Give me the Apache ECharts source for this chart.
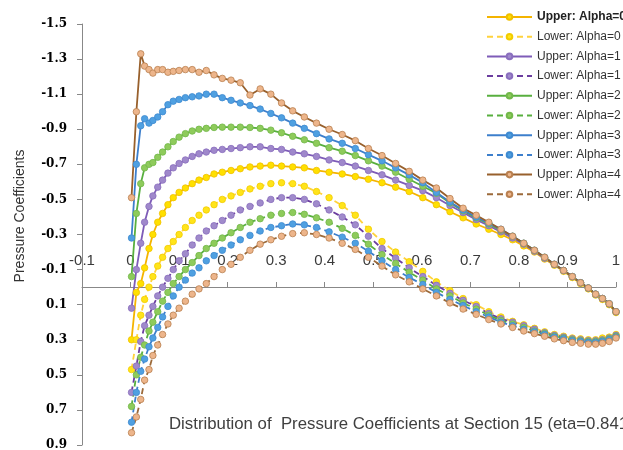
<!DOCTYPE html>
<html>
<head>
<meta charset="utf-8">
<script src="https://cdn.jsdelivr.net/npm/echarts@6/dist/echarts.min.js"></script>
<style>
  html, body { margin: 0; padding: 0; background: #fff; }
  #chart { width: 623px; height: 450px; }
</style>
</head>
<body>
<div id="chart"></div>
<script>
// chord positions shared by all the surface curves
const xs = [0.002, 0.012, 0.021, 0.029, 0.038, 0.046, 0.056, 0.066, 0.077, 0.088,
  0.1, 0.113, 0.127, 0.141, 0.156, 0.172, 0.189, 0.207, 0.226, 0.246,
  0.267, 0.289, 0.311, 0.334, 0.358, 0.383, 0.409, 0.436, 0.463, 0.49,
  0.518, 0.546, 0.574, 0.602, 0.63, 0.658, 0.685, 0.712, 0.738, 0.763,
  0.787, 0.81, 0.832, 0.853, 0.873, 0.892, 0.91, 0.927, 0.943, 0.958,
  0.972, 0.986, 1.0];

const upperA0 = [0.30, 0.03, -0.02, -0.11, -0.22, -0.30, -0.37, -0.42, -0.47, -0.51,
  -0.54, -0.565, -0.59, -0.61, -0.625, -0.645, -0.655, -0.665, -0.675, -0.685,
  -0.69, -0.695, -0.69, -0.685, -0.68, -0.665, -0.655, -0.645, -0.63, -0.615,
  -0.595, -0.57, -0.545, -0.51, -0.47, -0.43, -0.395, -0.36, -0.33, -0.30,
  -0.27, -0.235, -0.20, -0.16, -0.125, -0.09, -0.055, -0.02, 0.01, 0.045,
  0.07, 0.10, 0.145];
const lowerA0 = [0.47, 0.30, 0.16, 0.07, 0.0, -0.06, -0.12, -0.17, -0.22, -0.26,
  -0.30, -0.34, -0.38, -0.41, -0.44, -0.47, -0.50, -0.52, -0.54, -0.56,
  -0.575, -0.59, -0.595, -0.59, -0.575, -0.545, -0.51, -0.465, -0.41, -0.33,
  -0.26, -0.20, -0.145, -0.09, -0.03, 0.02, 0.065, 0.10, 0.14, 0.17,
  0.195, 0.215, 0.235, 0.255, 0.27, 0.28, 0.29, 0.295, 0.30, 0.30,
  0.29, 0.285, 0.27];
const upperA1 = [0.12, -0.10, -0.25, -0.37, -0.46, -0.52, -0.57, -0.61, -0.65, -0.68,
  -0.705, -0.725, -0.745, -0.76, -0.77, -0.78, -0.785, -0.79, -0.795, -0.80,
  -0.80, -0.79, -0.785, -0.77, -0.76, -0.745, -0.725, -0.71, -0.69, -0.665,
  -0.64, -0.61, -0.58, -0.55, -0.51, -0.465, -0.425, -0.385, -0.35, -0.315,
  -0.28, -0.245, -0.205, -0.165, -0.13, -0.095, -0.06, -0.025, 0.005, 0.04,
  0.065, 0.095, 0.14];
const lowerA1 = [0.60, 0.45, 0.31, 0.22, 0.16, 0.11, 0.05, 0.0, -0.05, -0.10,
  -0.15, -0.19, -0.24, -0.28, -0.32, -0.35, -0.38, -0.41, -0.44, -0.46,
  -0.48, -0.50, -0.51, -0.51, -0.50, -0.475, -0.44, -0.40, -0.355, -0.29,
  -0.22, -0.165, -0.11, -0.06, -0.01, 0.035, 0.075, 0.11, 0.15, 0.18,
  0.20, 0.22, 0.24, 0.26, 0.275, 0.285, 0.295, 0.30, 0.305, 0.305,
  0.30, 0.29, 0.275];
const upperA2 = [-0.06, -0.42, -0.59, -0.68, -0.70, -0.71, -0.74, -0.77, -0.80, -0.83,
  -0.855, -0.875, -0.89, -0.90, -0.905, -0.91, -0.912, -0.912, -0.912, -0.91,
  -0.905, -0.895, -0.88, -0.86, -0.84, -0.82, -0.795, -0.775, -0.75, -0.72,
  -0.69, -0.655, -0.615, -0.575, -0.535, -0.48, -0.435, -0.395, -0.36, -0.325,
  -0.29, -0.25, -0.21, -0.17, -0.13, -0.095, -0.06, -0.025, 0.005, 0.04,
  0.065, 0.095, 0.14];
const lowerA2 = [0.68, 0.50, 0.40, 0.33, 0.25, 0.20, 0.14, 0.08, 0.03, -0.02,
  -0.06, -0.10, -0.14, -0.18, -0.22, -0.25, -0.28, -0.31, -0.34, -0.37,
  -0.39, -0.41, -0.42, -0.425, -0.415, -0.395, -0.37, -0.335, -0.295, -0.245,
  -0.185, -0.135, -0.085, -0.04, 0.01, 0.05, 0.09, 0.125, 0.16, 0.19,
  0.21, 0.23, 0.25, 0.265, 0.28, 0.29, 0.30, 0.305, 0.31, 0.31,
  0.305, 0.295, 0.28];
const upperA3 = [-0.28, -0.70, -0.92, -0.96, -0.935, -0.95, -0.97, -1.00, -1.04, -1.06,
  -1.07, -1.08, -1.085, -1.09, -1.10, -1.10, -1.08, -1.065, -1.05, -1.035,
  -1.015, -0.99, -0.965, -0.935, -0.905, -0.875, -0.845, -0.82, -0.79, -0.755,
  -0.72, -0.68, -0.64, -0.595, -0.54, -0.485, -0.44, -0.40, -0.365, -0.33,
  -0.29, -0.25, -0.21, -0.17, -0.13, -0.095, -0.06, -0.025, 0.005, 0.04,
  0.065, 0.095, 0.14];
const lowerA3 = [0.77, 0.60, 0.48, 0.41, 0.34, 0.29, 0.23, 0.17, 0.11, 0.05,
  0.0, -0.04, -0.08, -0.11, -0.15, -0.18, -0.21, -0.24, -0.27, -0.295,
  -0.32, -0.34, -0.35, -0.36, -0.355, -0.34, -0.315, -0.285, -0.25, -0.205,
  -0.15, -0.10, -0.055, -0.015, 0.03, 0.07, 0.105, 0.14, 0.17, 0.20,
  0.22, 0.24, 0.255, 0.27, 0.285, 0.295, 0.305, 0.31, 0.315, 0.315,
  0.31, 0.30, 0.285];
const upperA4 = [-0.51, -1.00, -1.33, -1.26, -1.24, -1.22, -1.24, -1.24, -1.225, -1.23,
  -1.235, -1.24, -1.24, -1.225, -1.235, -1.21, -1.19, -1.18, -1.165, -1.095,
  -1.13, -1.10, -1.05, -1.005, -0.97, -0.935, -0.90, -0.87, -0.835, -0.79,
  -0.75, -0.705, -0.66, -0.61, -0.565, -0.505, -0.45, -0.41, -0.37, -0.33,
  -0.29, -0.25, -0.21, -0.17, -0.13, -0.095, -0.06, -0.025, 0.005, 0.04,
  0.065, 0.095, 0.14];
const lowerA4 = [0.83, 0.74, 0.64, 0.53, 0.47, 0.39, 0.33, 0.27, 0.21, 0.16,
  0.12, 0.08, 0.04, 0.01, -0.02, -0.06, -0.10, -0.13, -0.17, -0.21,
  -0.245, -0.27, -0.29, -0.305, -0.31, -0.30, -0.28, -0.25, -0.215, -0.17,
  -0.12, -0.07, -0.03, 0.01, 0.05, 0.09, 0.125, 0.155, 0.185, 0.21,
  0.23, 0.25, 0.265, 0.28, 0.295, 0.305, 0.315, 0.32, 0.325, 0.325,
  0.32, 0.31, 0.29];

const seriesNames = ['Upper: Alpha=0', 'Lower: Alpha=0', 'Upper: Alpha=1', 'Lower: Alpha=1',
  'Upper: Alpha=2', 'Lower: Alpha=2', 'Upper: Alpha=3', 'Lower: Alpha=3',
  'Upper: Alpha=4', 'Lower: Alpha=4'];
const cpValues = [upperA0, lowerA0, upperA1, lowerA1, upperA2, lowerA2, upperA3, lowerA3, upperA4, lowerA4];
const yTicks = [-1.5, -1.3, -1.1, -0.9, -0.7, -0.5, -0.3, -0.1, 0.1, 0.3, 0.5, 0.7, 0.9];

const lineColors = ['#F4B400', '#FFD23C', '#7E5CB8', '#6B3D9F', '#58AF3F', '#58AF3F', '#3D7FCC', '#3D7FCC', '#98602C', '#9C6A3A'];
const markerColors = ['#FFE000', '#FFE41A', '#9F88CB', '#A08BCB', '#8ECB5B', '#8ECB5B', '#4FA0E1', '#4FA0E1', '#EDB58B', '#EDB58B'];
const markerEdges = ['#F0C000', '#F2CC00', '#8A6FBE', '#8A6FBE', '#72B84A', '#72B84A', '#3F8AD0', '#3F8AD0', '#B98050', '#B98050'];

const chart = echarts.init(document.getElementById('chart'), null, {renderer: 'canvas'});

const series = seriesNames.map((name, i) => ({
  name: name,
  type: 'line',
  data: xs.map((x, j) => [x, cpValues[i][j]]),
  symbol: 'circle',
  symbolSize: 6.5,
  showAllSymbol: true,
  lineStyle: {color: lineColors[i], width: 1.8, type: i % 2 ? [6, 4] : 'solid'},
  itemStyle: {color: markerColors[i], borderColor: markerEdges[i], borderWidth: 0.8},
  emphasis: {disabled: true}
}));

const option = {
  animation: false,
  backgroundColor: '#fff',
  title: {
    text: 'Distribution of  Pressure Coefficients at Section 15 (eta=0.841)',
    left: 169, top: 416, padding: 0,
    textStyle: {fontFamily: 'Liberation Sans', fontSize: 16.8, fontWeight: 'normal', color: '#404040'}
  },
  legend: {
    orient: 'vertical', left: 486, top: 10, padding: 0,
    itemWidth: 45, itemHeight: 7, itemGap: 5.7,
    data: seriesNames,
    formatter: name => name === seriesNames[0] ? '{b|' + name + '}' : name,
    textStyle: {
      fontFamily: 'Liberation Sans', fontSize: 12, color: '#333', lineHeight: 14,
      rich: {b: {fontFamily: 'Liberation Sans', fontSize: 12, fontWeight: 'bold', color: '#222', lineHeight: 14}}
    }
  },
  graphic: [{
    type: 'text', x: 20, y: 216, rotation: Math.PI / 2,
    style: {text: 'Pressure Coefficients', fontFamily: 'Liberation Sans', fontSize: 14, fill: '#333', align: 'center', verticalAlign: 'middle'}
  }],
  grid: {left: 82, right: 7, top: 24, bottom: 5, containLabel: false, outerBoundsMode: 'none'},
  xAxis: {
    // sits on Cp = 0, labels above the line
    type: 'value', min: -0.1, max: 1, interval: 0.1, position: 'top', offset: -263,
    axisLine: {onZero: false, lineStyle: {color: '#888', width: 1}},
    axisTick: {show: true, length: 5, lineStyle: {color: '#888'}},
    axisLabel: {margin: 19, fontFamily: 'Liberation Sans', fontSize: 15, color: '#3a3a3a', showMinLabel: true, showMaxLabel: true},
    splitLine: {show: false}
  },
  yAxis: {
    type: 'value', inverse: true, min: -1.5, max: 0.9,
    axisLine: {show: true, onZero: false, lineStyle: {color: '#888', width: 1}},
    axisTick: {show: true, length: 5, customValues: yTicks, lineStyle: {color: '#888'}},
    axisLabel: {margin: 15, customValues: yTicks, formatter: v => v.toFixed(1),
      fontFamily: 'DejaVu Serif', fontWeight: 'bold', fontSize: 12, color: '#000'},
    splitLine: {show: false}
  },
  series: series
};

chart.setOption(option);
</script>
</body>
</html>
